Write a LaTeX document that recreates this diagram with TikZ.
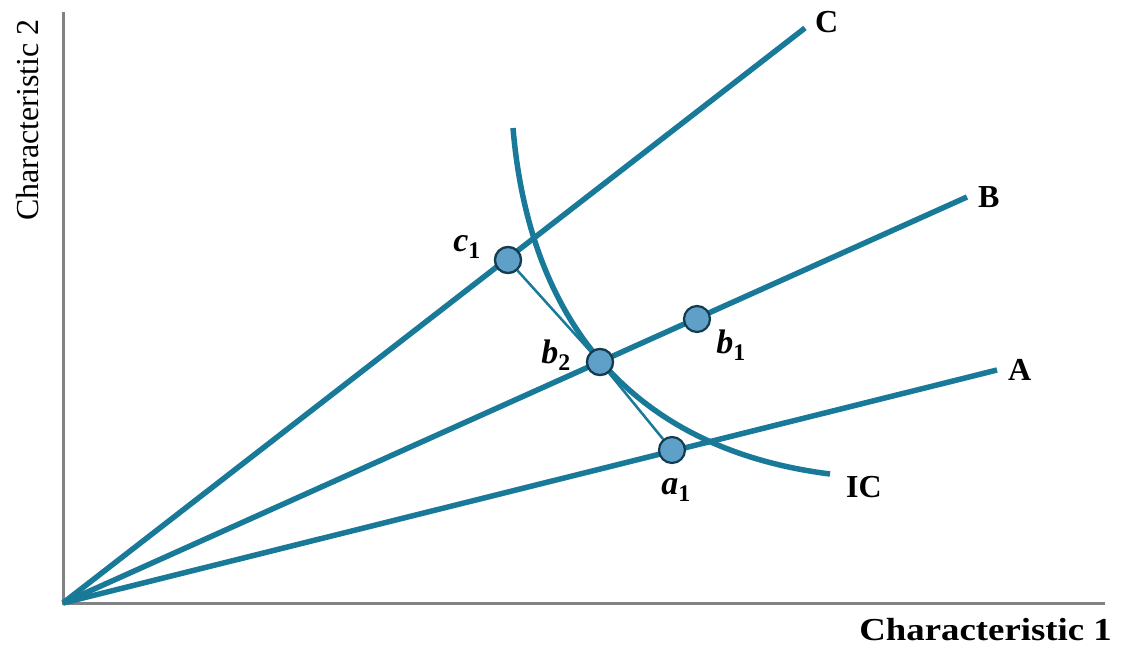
\documentclass[tikz,border=0pt]{standalone}
\usepackage{fontspec}
\setmainfont{Liberation Serif}
\definecolor{ray}{RGB}{24,122,152}
\definecolor{dotfill}{RGB}{95,160,200}
\definecolor{dotedge}{RGB}{20,60,80}
\definecolor{axisgray}{RGB}{130,130,130}
\newcommand{\ptname}[2]{{\bfseries\itshape #1}\textsubscript{\bfseries #2}}
\begin{document}
\begin{tikzpicture}[x=1pt,y=-1pt,
  rayline/.style={draw=ray,line width=5.5pt},
  chord/.style={draw=ray,line width=2.5pt},
  axisline/.style={draw=axisgray,line width=3pt},
  dotnode/.style={circle,fill=dotfill,draw=dotedge,line width=2.2pt,minimum size=26pt,inner sep=0pt},
  lab/.style={font=\fontsize{32}{32}\selectfont\bfseries,inner sep=0pt},
  ptlab/.style={font=\fontsize{34}{34}\selectfont,inner sep=0pt}]
\useasboundingbox (0,0) rectangle (1125,646);
\coordinate (O) at (63,603);
\coordinate (ytop) at (63,12);
\coordinate (xend) at (1105,603);
\coordinate (Cend) at (805,28);
\coordinate (Bend) at (967,197);
\coordinate (Aend) at (997,370);
\coordinate (ICs) at (513,128);
\coordinate (ICe) at (830,474);
\draw[axisline] (ytop) -- (O) -- (xend);
\draw[rayline] (O) -- (Cend);
\draw[rayline] (O) -- (Bend);
\draw[rayline] (O) -- (Aend);
\draw[rayline] (ICs) .. controls (530,330) and (640,450) .. (ICe);
\node[dotnode] (c1) at (508,260) {};
\node[dotnode] (b2) at (600,362) {};
\node[dotnode] (b1) at (697,319) {};
\node[dotnode] (a1) at (672,450) {};
\draw[chord] (c1) -- (b2) -- (a1);
\node[dotnode] at (c1) {};
\node[dotnode] at (b2) {};
\node[lab,anchor=west] (lC) at (815,22) {C};
\node[lab,anchor=west] (lB) at (978,197) {B};
\node[lab,anchor=west] (lA) at (1008,370) {A};
\node[lab,anchor=west] (lIC) at (846,487) {IC};
\node[ptlab] (lc1) at (467,247) {\ptname{c}{1}};
\node[ptlab] (lb2) at (556,355) {\ptname{b}{2}};
\node[ptlab] (lb1) at (731,345) {\ptname{b}{1}};
\node[ptlab] (la1) at (676,490) {\ptname{a}{1}};
\node[font=\fontsize{32}{32}\selectfont,rotate=90,inner sep=0pt] (ylab) at (28,120) {Characteristic 2};
\node[font=\fontsize{32}{32}\selectfont\bfseries,inner sep=0pt,anchor=east] (xlab) at (1112,630) {\scalebox{1.15}[1]{Characteristic 1}};
\end{tikzpicture}
\end{document}
